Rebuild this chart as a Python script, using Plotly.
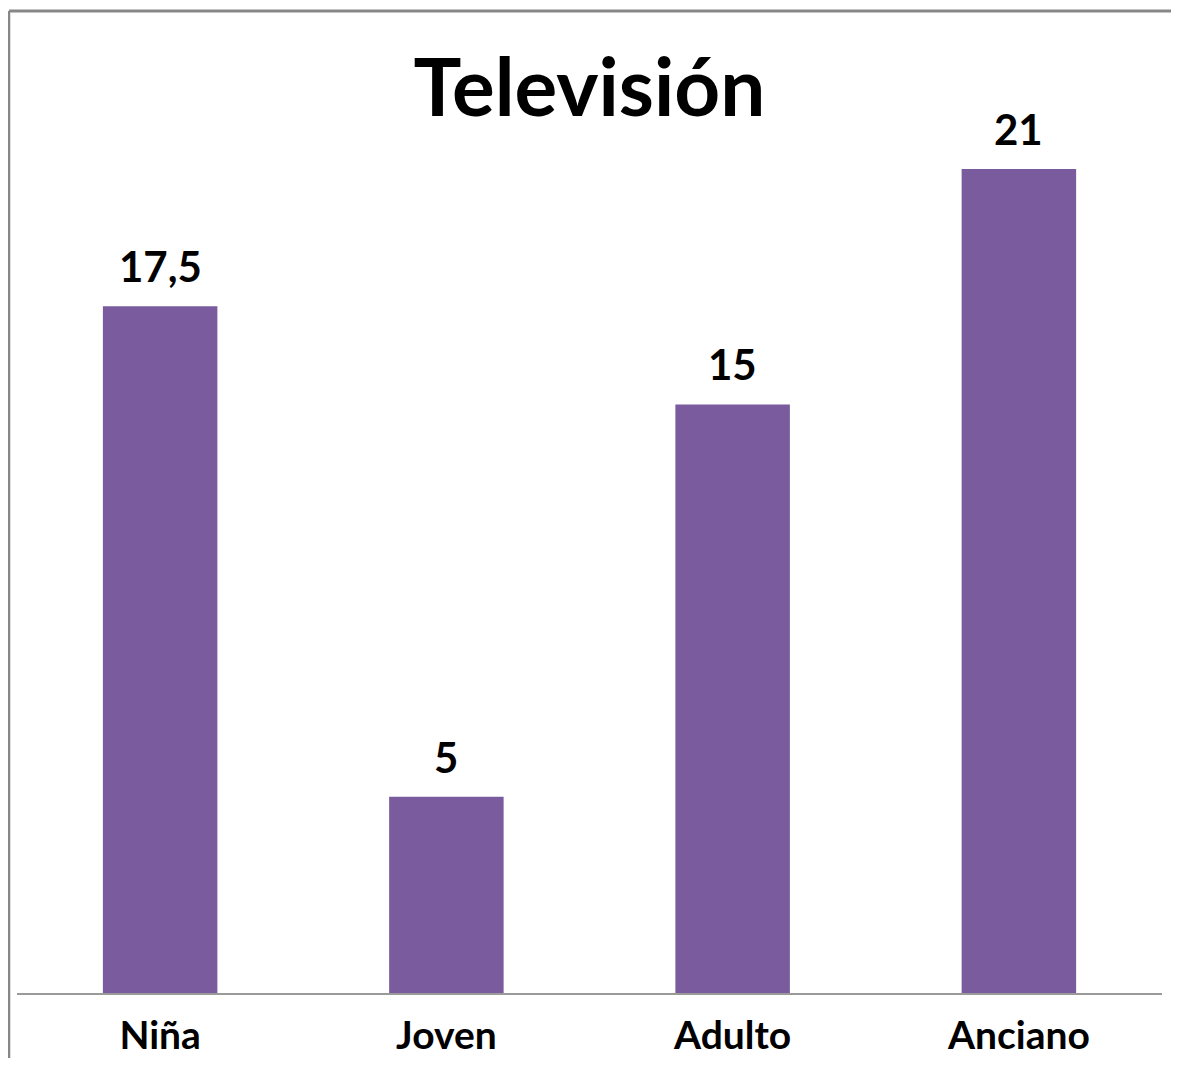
import plotly.graph_objects as go

categories = ["Niña", "Joven", "Adulto", "Anciano"]
values = [17.5, 5, 15, 21]
title_text = "Televisión"

BAR_COLOR = "#7A5B9E"
FONT = "Lato"

# page is 1179x1066; the html body adds an 8px margin around the figure
W, H = 1163, 1050
ML, MR, MT, MB = 9, 9, 4, 65
PW = W - ML - MR
PH = H - MT - MB


def fmt(v):
    return ("%g" % v).replace(".", ",")


fig = go.Figure()
fig.add_trace(go.Bar(
    x=categories,
    y=values,
    marker=dict(color=BAR_COLOR, line=dict(width=0)),
    hoverinfo="skip",
))

for c, v in zip(categories, values):
    fig.add_annotation(
        x=c, y=v, xref="x", yref="y",
        text="<b>%s</b>" % fmt(v),
        showarrow=False,
        yanchor="bottom",
        yshift=13,
        font=dict(family=FONT, size=42, color="black"),
    )

# outer chart border (gray), cut off at right and bottom
bx = (1 - ML) / PW
by = (H - MB - 3) / PH
fig.add_shape(type="line", xref="paper", yref="paper",
              x0=bx, x1=bx, y0=-0.2, y1=by,
              line=dict(color="#878787", width=2.5))
fig.add_shape(type="line", xref="paper", yref="paper",
              x0=bx, x1=1.1, y0=by, y1=by,
              line=dict(color="#878787", width=3))

fig.update_layout(
    width=W, height=H,
    margin=dict(l=ML, r=MR, t=MT, b=MB, pad=0, autoexpand=False),
    paper_bgcolor="white",
    plot_bgcolor="white",
    bargap=0.6,
    showlegend=False,
    title=dict(
        text="<b>%s</b>" % title_text,
        x=0.5, xanchor="center",
        y=1 - 80 / H, yanchor="middle",
        xref="container", yref="container",
        font=dict(family=FONT, size=80, color="black"),
    ),
    xaxis=dict(
        showline=True, linecolor="#9a9a9a", linewidth=2,
        showgrid=False, zeroline=False, automargin=False,
        ticks="", ticklabelstandoff=7,
        tickfont=dict(family=FONT, size=39, color="black", weight="bold"),
    ),
    yaxis=dict(
        range=[0, 25], visible=False, showgrid=False, zeroline=False,
        automargin=False,
    ),
)

fig.write_html("out.html")
